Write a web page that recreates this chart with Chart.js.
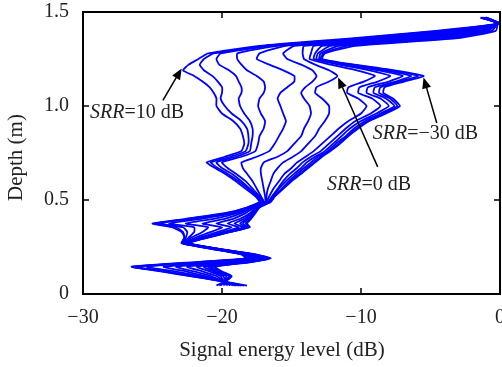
<!DOCTYPE html>
<html><head><meta charset="utf-8">
<script src="https://cdn.jsdelivr.net/npm/chart.js@4.4.1/dist/chart.umd.min.js"></script>
<style>html,body{margin:0;padding:0;background:#fff}#wrap{width:502px;height:367px}</style>
</head><body><div id="wrap"><canvas id="c" width="502" height="367"></canvas></div>
<script>
// Depth (m) sample points, shared by all curves (top to bottom)
const depth = [1.47,1.44,1.40,1.36,1.32, 1.28,1.25,1.22,1.19,1.16, 1.13,1.10,1.07,1.04,1.00, 0.96,0.92,0.88,0.84,0.80, 0.76,0.73,0.70,0.67,0.64, 0.60,0.56,0.52,0.49,0.46, 0.43,0.40,0.375,0.355,0.33, 0.30,0.27,0.24,0.21,0.19, 0.17,0.145,0.12,0.095,0.07, 0.045];

// Signal energy level (dB) of each curve, SRR from 10 dB (curve1) down to -30 dB (curve13)
const curve1 = [-1.0,0,-4.6,-10.7,-17.3, -21.0,-21.7,-22.4,-22.8,-22.0, -21.4,-20.9,-20.6,-20.4,-20.4, -20.0,-19.2,-18.7,-18.5,-18.4, -18.6,-19.8,-21.1,-20.5,-19.8, -19.0,-18.3,-17.6,-17.3,-18.2, -19.8,-22.6,-25.0,-23.6,-22.9, -22.7,-22.9,-20.8,-18.6,-18.3, -21.9,-26.5,-24.4,-22.3,-20.2, -18.2];
const curve2 = [-1.0,0,-4.3,-10.2,-16.9, -20.6,-21.3,-21.6,-21.3,-20.7, -20.3,-20.0,-20.0,-20.1,-19.8, -19.3,-18.6,-18.2,-18.1,-18.1, -18.3,-19.4,-20.8,-20.3,-19.6, -18.8,-18.1,-17.5,-17.2,-18.2, -19.7,-22.4,-24.8,-23.3,-22.8, -22.7,-22.9,-20.7,-18.5,-18.2, -21.7,-26.4,-24.2,-22.2,-20.2, -18.4];
const curve3 = [-1.0,0,-4.0,-9.7,-16.5, -20.1,-20.4,-20.2,-19.5,-19.0, -18.8,-18.6,-18.6,-18.8,-18.7, -18.4,-18.0,-17.8,-17.8,-17.9, -18.0,-19.0,-20.4,-20.0,-19.3, -18.6,-18.0,-17.4,-17.1,-18.1, -19.5,-22.1,-24.5,-22.8,-22.5, -22.6,-22.8,-20.7,-18.4,-18.0, -21.4,-26.2,-24.0,-22.0,-20.1, -18.6];
const curve4 = [-1.0,0,-3.6,-9.1,-16.0, -18.9,-18.9,-18.6,-18.2,-17.5, -17.0,-16.9,-17.0,-17.3,-17.4, -17.2,-16.9,-17.0,-17.3,-17.4, -17.6,-18.6,-20.0,-19.6,-19.0, -18.3,-17.8,-17.3,-17.0,-18.0, -19.2,-21.5,-23.8,-22.0,-22.0, -22.4,-22.8,-20.6,-18.3,-17.8, -20.9,-25.4,-23.4,-21.6,-20.1, -18.8];
const curve5 = [-1.0,0,-3.2,-8.5,-15.4, -17.3,-17.5,-16.6,-15.6,-14.8, -14.8,-15.3,-15.8,-16.0,-15.8, -15.6,-15.4,-15.6,-15.9,-16.2, -16.6,-17.5,-18.6,-18.5,-18.2, -17.8,-17.5,-17.2,-17.0,-17.9, -18.9,-20.6,-22.6,-21.0,-21.4, -22.2,-22.7,-20.5,-18.2,-17.6, -20.2,-24.2,-22.6,-21.2,-20.0, -19.0];
const curve6 = [-1.1,0,-2.8,-7.9,-14.8, -15.6,-15.3,-14.3,-13.5,-13.2, -13.5,-14.0,-14.3,-14.1,-13.7, -13.6,-13.8,-14.1,-14.3,-14.8, -15.3,-16.0,-17.0,-17.2,-17.2, -17.1,-17.0,-16.9,-16.9,-17.8, -18.6,-19.8,-21.4,-20.0,-20.8, -21.9,-22.7,-20.5,-18.1,-17.4, -19.6,-23.3,-22.0,-20.8,-20.0, -19.2];
const curve7 = [-1.1,0,-2.3,-7.2,-14.1, -14.2,-14.1,-13.3,-12.3,-11.7, -12.3,-13.2,-13.3,-12.8,-12.3, -12.3,-12.6,-13.0,-13.3,-13.8, -14.3,-14.9,-15.6,-16.0,-16.3, -16.5,-16.7,-16.8,-16.8,-17.7, -18.3,-19.2,-20.4,-19.3,-20.3, -21.6,-22.6,-20.4,-18.0,-17.2, -19.1,-22.5,-21.4,-20.4,-19.9, -19.4];
const curve8 = [-1.2,-0.1,-1.9,-6.5,-13.4, -13.6,-13.7,-12.2,-10.3,-9.0, -9.8,-10.9,-11.0,-10.2,-9.6, -10.0,-10.9,-11.6,-12.2,-12.8, -13.4,-14.0,-14.6,-15.0,-15.5, -15.9,-16.3,-16.6,-16.8,-17.6, -18.0,-18.7,-19.6,-18.8,-19.9, -21.4,-22.6,-20.4,-17.9,-17.0, -18.7,-21.8,-20.9,-20.1,-19.9, -19.6];
const curve9 = [-1.2,-0.1,-1.5,-5.9,-12.8, -13.3,-13.4,-11.6,-9.4,-7.9, -8.8,-10.1,-10.2,-9.2,-8.6, -9.3,-10.4,-11.1,-11.7,-12.3, -12.9,-13.6,-14.2,-14.6,-15.1, -15.6,-16.0,-16.4,-16.7,-17.5, -17.9,-18.4,-19.1,-18.5,-19.7, -21.3,-22.5,-20.3,-17.8,-16.9, -18.4,-21.3,-20.6,-19.9,-19.8, -19.8];
const curve10 = [-1.3,-0.1,-1.2,-5.2,-12.2, -13.1,-13.2,-11.2,-8.8,-7.0, -8.0,-9.5,-9.6,-8.6,-8.0, -8.9,-10.0,-10.8,-11.4,-12.0, -12.6,-13.3,-13.9,-14.3,-14.8, -15.4,-15.9,-16.3,-16.6,-17.5, -17.8,-18.2,-18.7,-18.3,-19.6, -21.2,-22.5,-20.3,-17.7,-16.8, -18.2,-21.0,-20.4,-19.7,-19.8, -19.9];
const curve11 = [-1.3,-0.2,-0.9,-4.5,-11.6, -12.9,-13.0,-10.9,-8.3,-6.4, -7.5,-9.0,-9.1,-8.2,-7.6, -8.6,-9.7,-10.5,-11.1,-11.8, -12.4,-13.1,-13.6,-14.1,-14.6, -15.2,-15.7,-16.2,-16.6,-17.4, -17.7,-18.1,-18.5,-18.2,-19.5, -21.1,-22.5,-20.3,-17.6,-16.7, -18.1,-20.8,-20.3,-19.5,-19.8, -20.1];
const curve12 = [-1.4,-0.2,-0.6,-3.9,-11.0, -12.7,-12.9,-10.7,-7.9,-5.9, -7.2,-8.6,-8.7,-7.9,-7.4, -8.4,-9.5,-10.3,-11.0,-11.6, -12.3,-12.9,-13.4,-13.9,-14.4, -15.1,-15.6,-16.2,-16.5,-17.4, -17.7,-18.0,-18.3,-18.1,-19.4, -21.1,-22.5,-20.2,-17.6,-16.6, -18.0,-20.6,-20.1,-19.4,-19.7, -20.2];
const curve13 = [-1.4,-0.2,-0.3,-3.2,-10.4, -12.6,-12.8,-10.5,-7.6,-5.5, -6.9,-8.3,-8.4,-7.7,-7.2, -8.2,-9.4,-10.2,-10.9,-11.5, -12.2,-12.8,-13.3,-13.8,-14.3, -15.0,-15.6,-16.2,-16.5,-17.3, -17.6,-17.9,-18.2,-18.0,-19.4, -21.0,-22.4,-20.2,-17.5,-16.5, -17.9,-20.5,-20.0,-19.3,-19.7, -20.4];

const curves = [curve1,curve2,curve3,curve4,curve5,curve6,curve7,curve8,curve9,curve10,curve11,curve12,curve13];

// Axis ticks and labels
const xTicks = [-30,-20,-10,0];
const xTickLabels = ['\u221230','\u221220','\u221210','0'];
const yTicks = [0,0.5,1.0,1.5];
const yTickLabels = ['0','0.5','1.0','1.5'];
const xTitle = 'Signal energy level (dB)';
const yTitle = 'Depth (m)';

// Annotations (data coordinates)
const notes = [
  {pre:'SRR', post:'=10 dB', at:[-29.5,0.936], tail:[-24.25,1.03], head:[-22.9,1.20]},
  {pre:'SRR', post:'=\u221230 dB', at:[-9.15,0.826], tail:[-4.55,0.91], head:[-5.5,1.152]},
  {pre:'SRR', post:'=0 dB', at:[-12.45,0.555], tail:[-8.8,0.676], head:[-11.65,1.152]}
];

const FONT = '"Liberation Serif","Times New Roman",serif';

const datasets = curves.map((c,k)=>({
  label:'curve'+(k+1),
  data: depth.map((d,i)=>({x:c[i], y:d})),
  showLine:true, borderColor:'#0000ff', borderWidth:1.8,
  pointRadius:0, tension:0.15, fill:false
}));

const framePlugin = {
  id:'frame',
  afterDraw(chart){
    const {ctx, chartArea:a, scales:{x,y}} = chart;
    ctx.save();
    ctx.strokeStyle='#000';
    ctx.lineWidth=2;
    ctx.strokeRect(a.left, a.top, a.right-a.left, a.bottom-a.top);
    ctx.lineWidth=1.5;
    ctx.beginPath();
    xTicks.forEach(v=>{const p=x.getPixelForValue(v); ctx.moveTo(p,a.bottom); ctx.lineTo(p,a.bottom-6); ctx.moveTo(p,a.top); ctx.lineTo(p,a.top+6);});
    yTicks.forEach(v=>{const p=y.getPixelForValue(v); ctx.moveTo(a.left,p); ctx.lineTo(a.left+6,p); ctx.moveTo(a.right,p); ctx.lineTo(a.right-6,p);});
    ctx.stroke();
    // axis titles
    ctx.fillStyle='#222';
    ctx.font='21px '+FONT;
    ctx.textAlign='center'; ctx.textBaseline='middle';
    ctx.fillText(xTitle, a.left+(a.right-a.left)*0.477, a.bottom+56);
    ctx.save();
    ctx.translate(a.left-67, a.top+(a.bottom-a.top)*0.516);
    ctx.rotate(-Math.PI/2);
    ctx.fillText(yTitle, 0, 0);
    ctx.restore();
    ctx.textAlign='left';
    notes.forEach(n=>{
      const tx=x.getPixelForValue(n.at[0]), ty=y.getPixelForValue(n.at[1]);
      ctx.fillStyle='#222';
      ctx.textBaseline='alphabetic';
      ctx.font='italic 20px '+FONT;
      ctx.fillText(n.pre, tx, ty);
      const w=ctx.measureText(n.pre).width;
      ctx.font='20px '+FONT;
      ctx.fillText(n.post, tx+w, ty);
      const x0=x.getPixelForValue(n.tail[0]), y0=y.getPixelForValue(n.tail[1]);
      const x1=x.getPixelForValue(n.head[0]), y1=y.getPixelForValue(n.head[1]);
      const ang=Math.atan2(y1-y0,x1-x0), L=11, W=4.5;
      ctx.strokeStyle='#000'; ctx.lineWidth=1.5;
      ctx.beginPath(); ctx.moveTo(x0,y0);
      ctx.lineTo(x1-Math.cos(ang)*L*0.8, y1-Math.sin(ang)*L*0.8); ctx.stroke();
      ctx.fillStyle='#000';
      ctx.beginPath();
      ctx.moveTo(x1,y1);
      ctx.lineTo(x1-Math.cos(ang)*L+Math.sin(ang)*W, y1-Math.sin(ang)*L-Math.cos(ang)*W);
      ctx.lineTo(x1-Math.cos(ang)*L-Math.sin(ang)*W, y1-Math.sin(ang)*L+Math.cos(ang)*W);
      ctx.closePath(); ctx.fill();
    });
    ctx.restore();
  }
};

new Chart(document.getElementById('c'), {
  type:'scatter',
  data:{datasets},
  options:{
    responsive:false, animation:false, devicePixelRatio:1,
    layout:{autoPadding:false, padding:{top:12,right:2,left:0,bottom:0}},
    plugins:{legend:{display:false}, tooltip:{enabled:false}},
    scales:{
      x:{type:'linear', min:-30, max:0,
        afterBuildTicks:(s)=>{s.ticks=xTicks.map(v=>({value:v}));},
        afterFit:(s)=>{s.height=73; s.paddingLeft=0; s.paddingRight=0;},
        grid:{display:false, drawTicks:false}, border:{display:false},
        ticks:{color:'#222', font:{family:FONT,size:20}, padding:12, maxRotation:0,
          callback:(v)=>xTickLabels[xTicks.indexOf(v)]},
        title:{display:false}
      },
      y:{type:'linear', min:0, max:1.5,
        afterBuildTicks:(s)=>{s.ticks=yTicks.map(v=>({value:v}));},
        afterFit:(s)=>{s.width=83; s.paddingTop=0; s.paddingBottom=0;},
        grid:{display:false, drawTicks:false}, border:{display:false},
        ticks:{color:'#222', font:{family:FONT,size:20}, padding:14,
          callback:(v)=>yTickLabels[yTicks.indexOf(v)]},
        title:{display:false}
      }
    }
  },
  plugins:[framePlugin]
});
</script></body></html>
